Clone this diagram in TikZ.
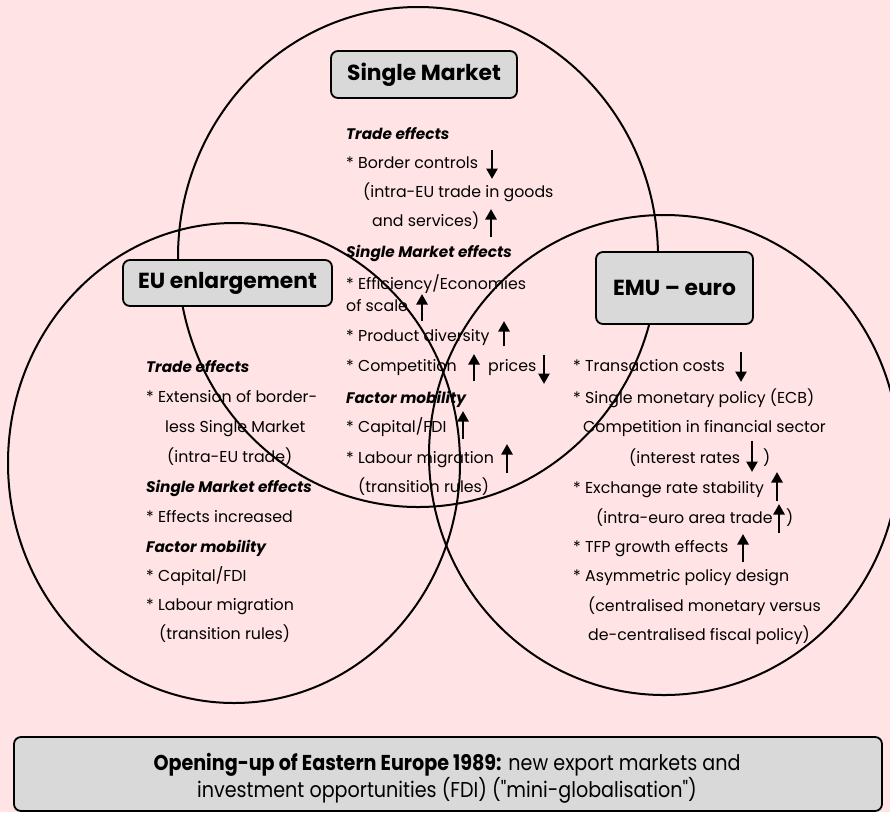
\documentclass[tikz,border=0pt]{standalone}
\usepackage{fontspec}
\setmainfont{Poppins}
\newfontfamily\condfont[FakeStretch=0.89]{Poppins}
\usetikzlibrary{arrows.meta}
\definecolor{bgpink}{RGB}{255,227,229}
\definecolor{boxgray}{RGB}{217,217,217}
\tikzset{
  txt/.style={anchor=west, inner sep=0pt, font=\fontsize{15.8}{18}\selectfont, text height=11pt, text depth=3pt},
  hd/.style={txt, font=\fontsize{15.3}{18}\selectfont\bfseries\itshape},
  titlebox/.style={draw, line width=1.8pt, rounded corners=7pt, fill=boxgray, inner sep=0pt, font=\fontsize{21.8}{26}\selectfont\bfseries},
  ring/.style={line width=2pt},
  uparrow/.style={-{Triangle[width=11pt,length=10.5pt]}, line width=2.6pt},
}
\begin{document}
\begin{tikzpicture}[x=1pt,y=-1pt]
\fill[bgpink] (0,0) rectangle (890,812);
\useasboundingbox (0,0) rectangle (890,812);
\clip (0,0) rectangle (890,812);
% circle centres
\coordinate (cSM) at (418,257);
\coordinate (cEU) at (234,463);
\coordinate (cEMU) at (664,455);
% --- text: Single Market circle
\node[hd]  (s1)  at (346,135) {Trade effects};
\node[txt] (s2)  at (346,164) {* Border controls};
\node[txt] (s3)  at (363,193) {(intra-EU trade in goods};
\node[txt] (s4)  at (372,222) {and services)};
\node[hd]  (s5)  at (346,253) {Single Market effects};
\node[txt] (s6)  at (346,285) {* Efficiency/Economies};
\node[txt] (s7)  at (346,307) {of scale};
\node[txt] (s8)  at (346,337) {* Product diversity};
\node[txt] (s9)  at (346,367) {* Competition};
\node[txt] (s9b) at (488,367) {prices};
\node[hd]  (s10) at (346,399) {Factor mobility};
\node[txt] (s11) at (346,428) {* Capital/FDI};
\node[txt] (s12) at (346,459) {* Labour migration};
\node[txt] (s13) at (358,488) {(transition rules)};
% --- text: EU enlargement circle
\node[hd]  (e1)  at (146,368) {Trade effects};
\node[txt] (e2)  at (146,398) {* Extension of border-};
\node[txt] (e3)  at (165,428) {less Single Market};
\node[txt] (e4)  at (167,458) {(intra-EU trade)};
\node[hd]  (e5)  at (146,488) {Single Market effects};
\node[txt] (e6)  at (146,518) {* Effects increased};
\node[hd]  (e7)  at (146,548) {Factor mobility};
\node[txt] (e8)  at (146,577) {* Capital/FDI};
\node[txt] (e9)  at (146,606) {* Labour migration};
\node[txt] (e10) at (159,635) {(transition rules)};
% --- text: EMU circle
\node[txt] (m1)  at (573,367) {* Transaction costs};
\node[txt] (m2)  at (573,399) {* Single monetary policy (ECB)};
\node[txt] (m3)  at (583,428) {Competition in financial sector};
\node[txt] (m4)  at (629,459) {(interest rates};
\node[txt] (m4b) at (763,459) {)};
\node[txt] (m5)  at (573,489) {* Exchange rate stability};
\node[txt] (m6)  at (596,519) {(intra-euro area trade};
\node[txt] (m6b) at (786,519) {)};
\node[txt] (m7)  at (573,548) {* TFP growth effects};
\node[txt] (m8)  at (573,577) {* Asymmetric policy design};
\node[txt] (m9)  at (588,607) {(centralised monetary versus};
\node[txt] (m10) at (588,636) {de-centralised fiscal policy)};
% --- arrows
\draw[uparrow] (492,150) -- (492,179);
\draw[uparrow] (491,237) -- (491,209);
\draw[uparrow] (422,321) -- (422,294);
\draw[uparrow] (504,346) -- (504,321);
\draw[uparrow] (474,381) -- (474,354);
\draw[uparrow] (544,355) -- (544,384);
\draw[uparrow] (463,439) -- (463,411);
\draw[uparrow] (507,473) -- (507,444);
\draw[uparrow] (741,352) -- (741,382);
\draw[uparrow] (752,441) -- (752,472);
\draw[uparrow] (777,501) -- (777,472);
\draw[uparrow] (779,533) -- (779,504);
\draw[uparrow] (743,562) -- (743,534);
% --- circles
\draw[ring] (cSM) ellipse [x radius=240, y radius=250];
\draw[ring] (cEU) ellipse [x radius=226, y radius=240];
\draw[ring] (cEMU) ellipse [x radius=235, y radius=240];
% --- title boxes
\node[titlebox, minimum width=186pt, minimum height=47pt] (sm)  at (424,74.5) {Single Market};
\node[titlebox, minimum width=209pt, minimum height=46pt] (eu)  at (227.5,283) {EU enlargement};
\node[titlebox, minimum width=157pt, minimum height=72pt] (emu) at (674.5,288) {EMU -- euro};
\node[titlebox, minimum width=868pt, minimum height=74pt] (open) at (448,774) {};
\node[inner sep=0pt, font=\condfont\fontsize{21.5}{24}\selectfont, align=center] (opentext) at (447,778)
  {\textbf{Opening-up of Eastern Europe 1989:} new export markets and\\investment opportunities (FDI) ("mini-globalisation")};
\end{tikzpicture}
\end{document}
